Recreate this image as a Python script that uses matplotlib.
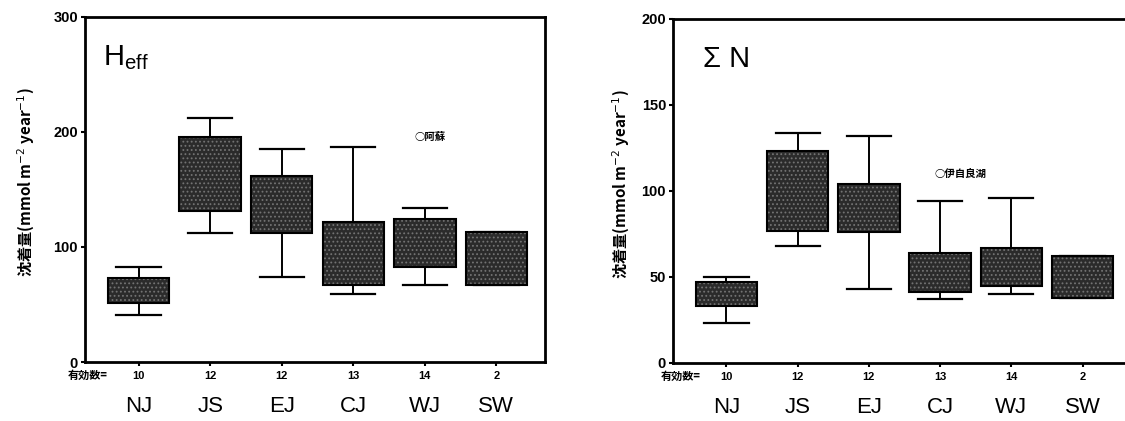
import matplotlib
matplotlib.use("Agg")
import matplotlib.pyplot as plt

plt.rcParams['font.family'] = ['Liberation Sans', 'Noto Sans CJK JP', 'DejaVu Sans']
plt.rcParams['hatch.linewidth'] = 0.8

# Regions and counts of valid samples
regions = ["NJ", "JS", "EJ", "CJ", "WJ", "SW"]
counts = ["10", "12", "12", "13", "14", "2"]

# Effective H deposition (mmol m-2 year-1): whisker ends and box quartiles
h_lo = [41, 112, 74, 59, 67, 67]
h_q1 = [51, 131, 112, 67, 83, 67]
h_q3 = [73, 196, 162, 122, 124, 113]
h_hi = [83, 212, 185, 187, 134, 113]

# Total N deposition (mmol m-2 year-1)
n_lo = [23, 68, 43, 37, 40, 38]
n_q1 = [33, 77, 76, 41, 45, 38]
n_q3 = [47, 123, 104, 64, 67, 62]
n_hi = [50, 134, 132, 94, 96, 62]

ylabel = "沈着量(mmol m$^{-2}$ year$^{-1}$)"
cjk = ["Noto Sans CJK JP", "DejaVu Sans"]


def draw_panel(ax, lo, q1, q3, hi, ymax, yticks, title, title_x, note, note_xy,
               label_x, count_x):
    stats = []
    for i in range(len(regions)):
        stats.append({"whislo": lo[i], "q1": q1[i], "med": q1[i],
                      "q3": q3[i], "whishi": hi[i], "label": regions[i]})
    bp = ax.bxp(stats, positions=range(1, len(regions) + 1), widths=0.86,
                showfliers=False, patch_artist=True,
                boxprops=dict(facecolor="#2b2b2b", edgecolor="black", linewidth=1.5),
                whiskerprops=dict(color="black", linewidth=1.4),
                capprops=dict(color="black", linewidth=1.6),
                medianprops=dict(visible=False),
                capwidths=0.62)
    # stippled fill: grey dots on the dark boxes, black outline kept
    for p in bp["boxes"]:
        p.set_hatch("....")
        p._hatch_color = (0.45, 0.45, 0.45, 1.0)

    ax.set_xlim(0.25, 6.68)
    ax.set_ylim(0, ymax)
    ax.set_yticks(yticks)
    ax.set_yticklabels([str(t) for t in yticks], fontsize=10.5, fontweight="bold")
    ax.set_xticks(range(1, len(regions) + 1))
    ax.set_xticklabels([])
    ax.tick_params(axis="x", length=3, width=1.5, direction="out")
    ax.tick_params(axis="y", length=3, width=1.5, direction="out", pad=2)
    for s in ax.spines.values():
        s.set_linewidth(2)

    trans = ax.get_xaxis_transform()
    for i, (c, r) in enumerate(zip(counts, regions)):
        ax.text(i + 1, -0.04, c, transform=trans, ha="center", va="center",
                fontsize=8, fontweight="bold")
        ax.text(i + 1, -0.13, r, transform=trans, ha="center", va="center",
                fontsize=16)
    ax.text(count_x, -0.04, "有効数=", transform=ax.transAxes, ha="right",
            va="center", fontsize=8, fontweight="bold", family=cjk)

    ax.text(title_x, 0.86, title, transform=ax.transAxes, fontsize=21,
            ha="left", va="baseline")
    ax.text(note_xy[0], note_xy[1], note, fontsize=7.5, fontweight="bold",
            ha="left", va="center", family=cjk)

    ax.set_ylabel(ylabel, fontsize=11, fontweight="bold", family=cjk)
    ax.yaxis.set_label_coords(label_x, 0.52)


fig = plt.figure(figsize=(11.25, 4.21), dpi=100)
ax1 = fig.add_axes([85 / 1125, 1 - 362 / 421, 460 / 1125, 345 / 421])
ax2 = fig.add_axes([673 / 1125, 1 - 363 / 421, 458 / 1125, 344 / 421])

draw_panel(ax1, h_lo, h_q1, h_q3, h_hi, 300, [0, 100, 200, 300],
           r"$\mathregular{H_{eff}}$", 0.04, "○阿蘇", (4.85, 196),
           -0.105, 0.05)
draw_panel(ax2, n_lo, n_q1, n_q3, n_hi, 200, [0, 50, 100, 150, 200],
           "Σ N", 0.066, "○伊自良湖", (3.92, 110),
           -0.09, 0.06)

fig.savefig("out.png", dpi=100)
